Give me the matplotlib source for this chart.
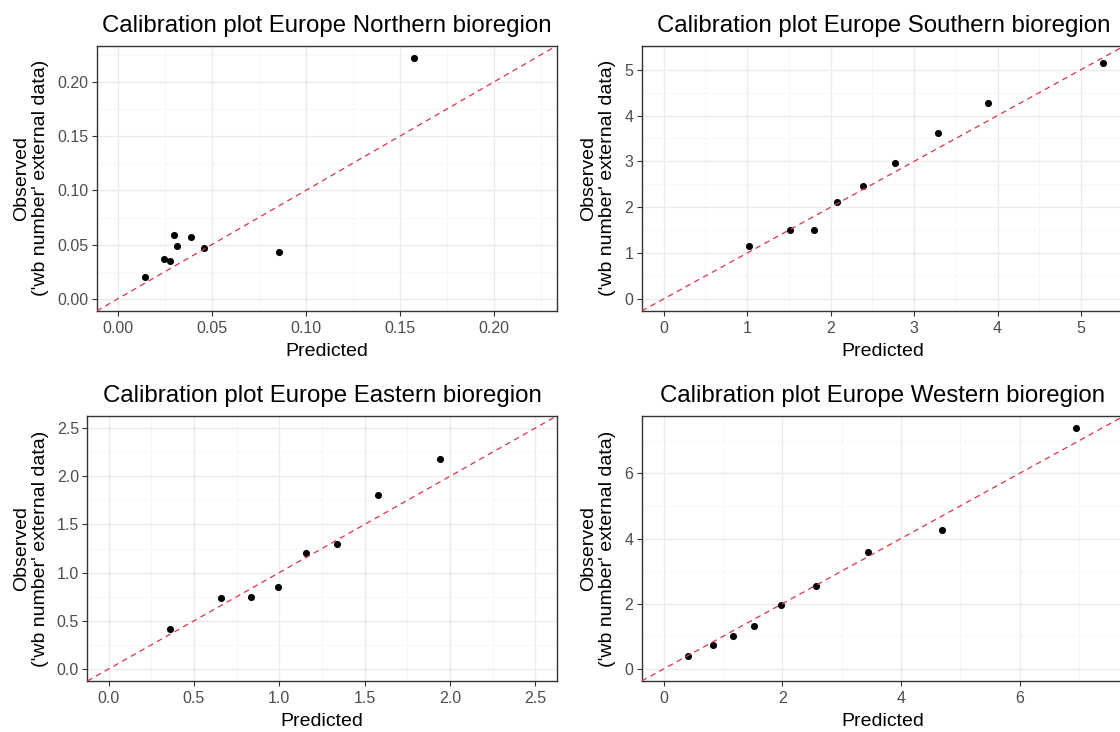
import matplotlib
matplotlib.use("Agg")
import matplotlib.pyplot as plt
import numpy as np
from matplotlib.ticker import FixedLocator, FormatStrFormatter

plt.rcParams['font.family'] = ['Liberation Sans', 'DejaVu Sans']

# ---- data ----
north_pred = [0.0144, 0.0247, 0.0281, 0.0298, 0.0317, 0.0390, 0.0462, 0.0859, 0.1576]
north_obs = [0.0202, 0.0365, 0.0350, 0.0586, 0.0488, 0.0574, 0.0466, 0.0436, 0.2224]

south_pred = [1.02, 1.51, 1.80, 2.08, 2.39, 2.77, 3.29, 3.89, 5.26]
south_obs = [1.15, 1.50, 1.50, 2.12, 2.47, 2.97, 3.62, 4.27, 5.15]

east_pred = [0.36, 0.66, 0.835, 0.99, 1.158, 1.34, 1.579, 1.941]
east_obs = [0.418, 0.74, 0.75, 0.851, 1.203, 1.30, 1.801, 2.178]

west_pred = [0.416, 0.825, 1.163, 1.53, 1.97, 2.56, 3.44, 4.693, 6.946]
west_obs = [0.399, 0.737, 1.024, 1.311, 1.976, 2.549, 3.594, 4.249, 7.392]

titles = ["Calibration plot Europe Northern bioregion",
          "Calibration plot Europe Southern bioregion",
          "Calibration plot Europe Eastern bioregion",
          "Calibration plot Europe Western bioregion"]
upper_limits = [0.2224, 5.26, 2.5, 7.39]
major_ticks = [[0, 0.05, 0.10, 0.15, 0.20], [0, 1, 2, 3, 4, 5],
               [0, 0.5, 1.0, 1.5, 2.0, 2.5], [0, 2, 4, 6]]
minor_ticks = [[0.025, 0.075, 0.125, 0.175, 0.225], [0.5, 1.5, 2.5, 3.5, 4.5, 5.5],
               [0.25, 0.75, 1.25, 1.75, 2.25], [1, 3, 5, 7]]
tick_formats = ['%.2f', '%d', '%.1f', '%d']
xlabel = "Predicted"
ylabel = "Observed\n('wb number' external data)"

W, H = 1120, 732
fig = plt.figure(figsize=(W / 100, H / 100), dpi=100)

# panel boxes in pixels: left, right, top, bottom
boxes = [(96.7, 556.7, 45.7, 311.0), (641.7, 1124.7, 45.7, 311.0),
         (87.3, 556.7, 416.0, 681.0), (641.7, 1124.0, 416.0, 681.0)]
ylabel_x = [31.0, 598.0, 31.0, 598.0]

series = [(north_pred, north_obs), (south_pred, south_obs),
          (east_pred, east_obs), (west_pred, west_obs)]

for i in range(4):
    l, r, t, b = boxes[i]
    ph = b - t
    ax = fig.add_axes([l / W, (H - b) / H, (r - l) / W, ph / H])
    m = upper_limits[i]
    lim = (-0.05 * m, 1.05 * m)
    ax.set_xlim(lim)
    ax.set_ylim(lim)
    ax.xaxis.set_major_locator(FixedLocator(major_ticks[i]))
    ax.yaxis.set_major_locator(FixedLocator(major_ticks[i]))
    ax.xaxis.set_minor_locator(FixedLocator(minor_ticks[i]))
    ax.yaxis.set_minor_locator(FixedLocator(minor_ticks[i]))
    ax.xaxis.set_major_formatter(FormatStrFormatter(tick_formats[i]))
    ax.yaxis.set_major_formatter(FormatStrFormatter(tick_formats[i]))
    ax.grid(which='major', color='#EBEBEB', lw=1.0, zorder=0)
    ax.grid(which='minor', color='#F4F4F4', lw=0.5, zorder=0)
    ax.set_axisbelow(True)
    ax.tick_params(which='major', length=3.5, width=0.8, color='#333333',
                   labelsize=11.5, labelcolor='#4D4D4D')
    ax.tick_params(axis='y', which='major', pad=2.5)
    ax.tick_params(axis='x', which='major', pad=3.5)
    ax.tick_params(which='minor', length=0)
    for s in ax.spines.values():
        s.set_color('#333333')
        s.set_linewidth(1.0)
    px, py = series[i]
    ax.scatter(px, py, s=26, color='black', zorder=3, linewidths=0)
    ax.axline((0, 0), slope=1, color='#E0304A', lw=0.9, ls=(0, (4.5, 3.5)), zorder=4)
    ax.text(0.5, -40.0 / ph, xlabel, transform=ax.transAxes,
            ha='center', va='center', fontsize=14, color='black')
    ax.text(0.5, 1 + 14.0 / ph, titles[i], transform=ax.transAxes,
            ha='center', va='baseline', fontsize=17.3, color='black')
    fig.text(ylabel_x[i] / W, (H - (t + b) / 2) / H, ylabel, rotation=90,
             ha='center', va='center', multialignment='center', fontsize=14,
             linespacing=1.15)

fig.savefig("out.png", dpi=100)
